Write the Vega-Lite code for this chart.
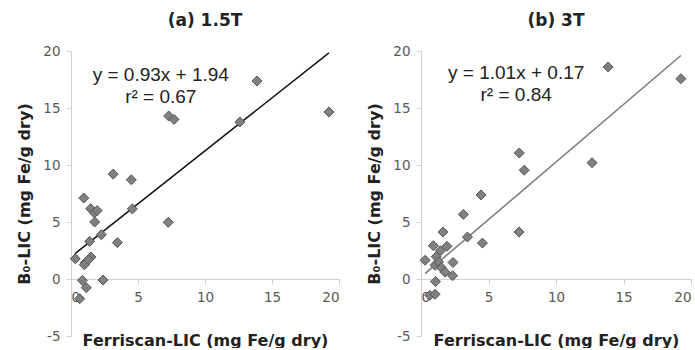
{
  "$schema": "https://vega.github.io/schema/vega-lite/v6.json",
  "padding": {"left": 16, "top": 12, "right": 4, "bottom": 0},
  "spacing": 26,
  "background": "white",
  "config": {
    "view": {"stroke": null},
    "axis": {
      "grid": false,
      "domainColor": "#d0d0d0",
      "tickColor": "#d0d0d0",
      "tickSize": 5,
      "labelFont": "DejaVu Sans",
      "labelFontSize": 13.5,
      "labelColor": "#595959",
      "labelExpr": "replace(datum.label, '−', '-')",
      "titleFont": "DejaVu Sans",
      "titleFontSize": 16,
      "titleFontWeight": "bold",
      "titleColor": "#222222"
    },
    "title": {"font": "DejaVu Sans", "fontSize": 17, "fontWeight": "bold", "color": "#222222", "offset": 14}
  },
  "datasets": {
    "ptsA": [
      {"x": 19.25, "y": 14.65}, {"x": 13.88, "y": 17.37}, {"x": 12.6, "y": 13.77},
      {"x": 7.29, "y": 14.3}, {"x": 7.69, "y": 14.0}, {"x": 7.26, "y": 4.97},
      {"x": 4.5, "y": 8.7}, {"x": 4.58, "y": 6.15}, {"x": 3.15, "y": 9.2},
      {"x": 3.46, "y": 3.19}, {"x": 2.26, "y": 3.89}, {"x": 2.39, "y": -0.09},
      {"x": 0.95, "y": 7.1}, {"x": 1.47, "y": 6.17}, {"x": 1.75, "y": 5.8},
      {"x": 1.95, "y": 6.0}, {"x": 1.77, "y": 5.0}, {"x": 1.39, "y": 3.3},
      {"x": 0.32, "y": 1.78}, {"x": 1.49, "y": 1.93}, {"x": 1.07, "y": 1.43},
      {"x": 1.0, "y": 1.25}, {"x": 1.3, "y": 1.7}, {"x": 0.85, "y": -0.12},
      {"x": 1.14, "y": -0.76}, {"x": 0.65, "y": -1.73}
    ],
    "ptsB": [
      {"x": 13.86, "y": 18.6}, {"x": 19.25, "y": 17.57}, {"x": 12.67, "y": 10.2},
      {"x": 7.28, "y": 11.05}, {"x": 7.65, "y": 9.55}, {"x": 4.45, "y": 7.37},
      {"x": 3.14, "y": 5.67}, {"x": 1.63, "y": 4.12}, {"x": 7.26, "y": 4.12},
      {"x": 3.44, "y": 3.68}, {"x": 4.55, "y": 3.15}, {"x": 0.92, "y": 2.92},
      {"x": 1.92, "y": 2.87}, {"x": 1.44, "y": 2.48}, {"x": 1.13, "y": 1.96},
      {"x": 0.3, "y": 1.64}, {"x": 2.37, "y": 1.45}, {"x": 1.04, "y": 1.2},
      {"x": 1.3, "y": 1.5}, {"x": 1.5, "y": 1.0}, {"x": 1.78, "y": 0.6},
      {"x": 2.34, "y": 0.29}, {"x": 1.08, "y": -0.22}, {"x": 0.65, "y": -1.43},
      {"x": 1.04, "y": -1.34}
    ],
    "lineA": [{"x": 0.3, "y": 2.22}, {"x": 19.25, "y": 19.84}],
    "lineB": [{"x": 0.3, "y": 0.47}, {"x": 19.25, "y": 19.61}],
    "txtA": [{"x": 6.7, "y": 17.9, "label": "y = 0.93x + 1.94"}, {"x": 6.7, "y": 15.95, "label": "r² = 0.67"}],
    "txtB": [{"x": 7.05, "y": 18.05, "label": "y = 1.01x + 0.17"}, {"x": 7.05, "y": 16.1, "label": "r² = 0.84"}]
  },
  "hconcat": [
    {
      "title": "(a) 1.5T",
      "width": 268,
      "height": 285,
      "layer": [
        {
          "data": {"name": "lineA"},
          "mark": {"type": "line", "color": "#111111", "strokeWidth": 1.5},
          "encoding": {
            "x": {"field": "x", "type": "quantitative", "scale": {"domain": [0, 20], "nice": false},
              "axis": {"values": [0, 5, 10, 15, 20], "offset": -57, "title": "Ferriscan-LIC (mg Fe/g dry)", "titleY": 61, "titleBaseline": "middle", "labelPadding": 6}},
            "y": {"field": "y", "type": "quantitative", "scale": {"domain": [-5, 20], "nice": false},
              "axis": {"values": [-5, 0, 5, 10, 15, 20], "title": "B₀-LIC (mg Fe/g dry)", "titlePadding": 10, "labelPadding": 6}}
          }
        },
        {
          "data": {"name": "ptsA"},
          "mark": {"type": "point", "shape": "diamond", "filled": true, "size": 100, "color": "#808080", "stroke": "#555555", "strokeWidth": 1, "opacity": 1},
          "encoding": {
            "x": {"field": "x", "type": "quantitative"},
            "y": {"field": "y", "type": "quantitative"}
          }
        },
        {
          "data": {"name": "txtA"},
          "mark": {"type": "text", "font": "Liberation Sans", "fontSize": 19, "color": "#222222"},
          "encoding": {
            "x": {"field": "x", "type": "quantitative"},
            "y": {"field": "y", "type": "quantitative"},
            "text": {"field": "label"}
          }
        }
      ]
    },
    {
      "title": "(b) 3T",
      "width": 270,
      "height": 285,
      "layer": [
        {
          "data": {"name": "lineB"},
          "mark": {"type": "line", "color": "#7a7a7a", "strokeWidth": 1.5},
          "encoding": {
            "x": {"field": "x", "type": "quantitative", "scale": {"domain": [0, 20], "nice": false},
              "axis": {"values": [0, 5, 10, 15, 20], "offset": -57, "title": "Ferriscan-LIC (mg Fe/g dry)", "titleY": 61, "titleBaseline": "middle", "labelPadding": 6}},
            "y": {"field": "y", "type": "quantitative", "scale": {"domain": [-5, 20], "nice": false},
              "axis": {"values": [-5, 0, 5, 10, 15, 20], "title": "B₀-LIC (mg Fe/g dry)", "titlePadding": 10, "labelPadding": 6}}
          }
        },
        {
          "data": {"name": "ptsB"},
          "mark": {"type": "point", "shape": "diamond", "filled": true, "size": 100, "color": "#808080", "stroke": "#555555", "strokeWidth": 1, "opacity": 1},
          "encoding": {
            "x": {"field": "x", "type": "quantitative"},
            "y": {"field": "y", "type": "quantitative"}
          }
        },
        {
          "data": {"name": "txtB"},
          "mark": {"type": "text", "font": "Liberation Sans", "fontSize": 19, "color": "#222222"},
          "encoding": {
            "x": {"field": "x", "type": "quantitative"},
            "y": {"field": "y", "type": "quantitative"},
            "text": {"field": "label"}
          }
        }
      ]
    }
  ]
}
